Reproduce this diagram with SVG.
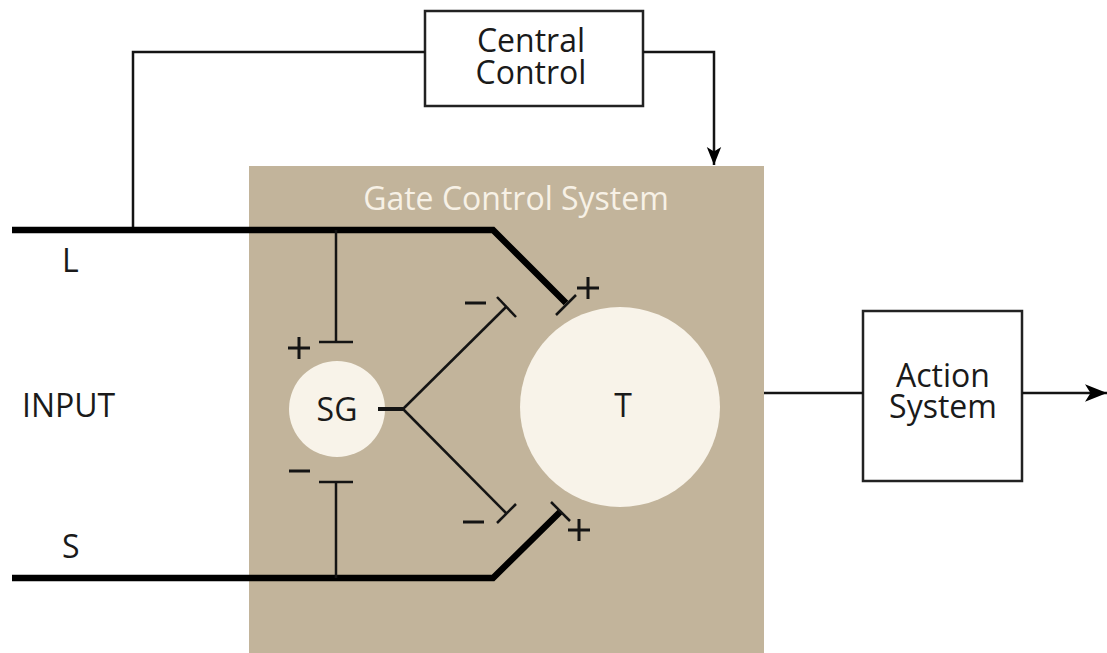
<svg xmlns="http://www.w3.org/2000/svg" width="1107" height="653" viewBox="0 0 1107 653">
<defs>
<style>
.t{font-family:"Open Sans","Noto Sans",sans-serif;font-size:32px;fill:#1a1a1a}
.tc{text-anchor:middle}
.box{fill:#fff;stroke:#222;stroke-width:2.5}
.thin{fill:none;stroke:#141414;stroke-width:2.5}
.thick{fill:none;stroke:#000;stroke-width:6.5;stroke-linejoin:miter}
.sign{fill:none;stroke:#141414;stroke-width:3}
</style>
<marker id="arrd" viewBox="0 0 10 10" refX="10" refY="5" markerWidth="18" markerHeight="18" markerUnits="userSpaceOnUse" orient="auto">
<path d="M0,1 L10,5 L0,9 L2.5,5 z" fill="#000"/>
</marker>
<marker id="arrr" viewBox="0 0 10 10" refX="10" refY="5" markerWidth="22" markerHeight="22" markerUnits="userSpaceOnUse" orient="auto">
<path d="M0,1 L10,5 L0,9 L2.5,5 z" fill="#000"/>
</marker>
</defs>
<rect width="1107" height="653" fill="#fff"/>

<g id="gate-control-system">
<rect x="249" y="166" width="515" height="487" fill="#c2b49b"/>
<text x="516" y="210" class="t tc" style="fill:#f7f1e6">Gate Control System</text>
</g>

<g id="central-control">
<rect x="425" y="11" width="218" height="95" class="box"/>
<text class="t tc"><tspan x="531" y="52">Central</tspan><tspan x="531" y="84">Control</tspan></text>
</g>

<g id="action-system">
<rect x="863" y="311" width="159" height="170" class="box"/>
<text class="t tc"><tspan x="943" y="387">Action</tspan><tspan x="943" y="418">System</tspan></text>
</g>

<g id="SG">
<circle cx="337" cy="409" r="48" fill="#f8f3e9"/>
<text x="337" y="421" class="t tc">SG</text>
</g>

<g id="T">
<circle cx="620" cy="407" r="100" fill="#f8f3e9"/>
<text x="623" y="417" class="t tc">T</text>
</g>

<g id="labels">
<text x="62" y="272" class="t">L</text>
<text x="22" y="417" class="t">INPUT</text>
<text x="62" y="558" class="t">S</text>
</g>

<g id="connectors">
<polyline points="133,231 133,52 425,52" class="thin"/>
<polyline points="643,52 714,52 714,165" class="thin" marker-end="url(#arrd)"/>
<line x1="764" y1="393" x2="863" y2="393" class="thin"/>
<line x1="1022" y1="393" x2="1107" y2="393" class="thin" marker-end="url(#arrr)"/>
<polyline points="12,230 493,230 566,303" class="thick"/>
<line x1="556" y1="315" x2="576" y2="295" class="thin"/>
<polyline points="12,578 493,578 561,511" class="thick"/>
<line x1="551" y1="502" x2="570" y2="521" class="thin"/>
<line x1="336" y1="230" x2="336" y2="342" class="thin"/>
<line x1="319" y1="342" x2="353" y2="342" class="thin"/>
<line x1="336" y1="578" x2="336" y2="482" class="thin"/>
<line x1="319" y1="482" x2="353" y2="482" class="thin"/>
<line x1="378" y1="409" x2="404" y2="409" stroke="#141414" stroke-width="4"/>
<line x1="403" y1="409" x2="506" y2="307" class="thin"/>
<line x1="497" y1="297" x2="516" y2="317" class="thin"/>
<line x1="403" y1="409" x2="506" y2="513" class="thin"/>
<line x1="497" y1="523" x2="516" y2="504" class="thin"/>
</g>

<g id="signs">
<path d="M288,348 h22 M299,337 v22" class="sign"/>
<path d="M289,471 h21" class="sign"/>
<path d="M465,303 h21" class="sign"/>
<path d="M463,522 h21" class="sign"/>
<path d="M577,288 h22 M588,277 v22" class="sign"/>
<path d="M568,530 h22 M579,519 v22" class="sign"/>
</g>
</svg>
